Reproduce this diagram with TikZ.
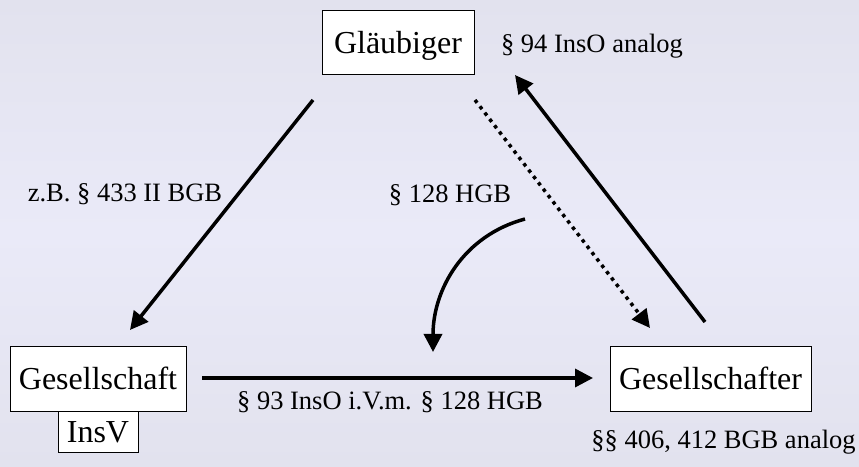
\documentclass[tikz,border=0pt]{standalone}
\usepackage{fontspec}
\setmainfont{Liberation Serif}
\usetikzlibrary{arrows.meta}
\definecolor{bgtop}{HTML}{E2E2EE}
\definecolor{bgmid}{HTML}{EAEAF8}
\begin{document}
\begin{tikzpicture}[x=1pt,y=1pt,
  party/.style={draw=black, line width=1pt, fill=white, font=\fontsize{32}{36}\selectfont,
    text height=25.6pt, text depth=4.5pt, inner sep=0pt, minimum height=64pt},
  lbl/.style={font=\fontsize{26.5}{30}\selectfont, anchor=base, inner sep=0pt},
  conn/.style={line width=3.5pt, -{Triangle[length=18pt,width=18pt]}},
  dotline/.style={conn, dash pattern=on 3.5pt off 4.5pt}
]
\shade[top color=bgtop, bottom color=bgtop, middle color=bgmid] (0,0) rectangle (859,466);
\useasboundingbox (0,0) rectangle (859,466);

\node[party, minimum width=152pt] (glaeub) at (398,423) {Gläubiger};
\node[party, minimum width=80pt, minimum height=41pt] (insv) at (98,34.5) {InsV};
\node[party, minimum width=176pt] (ges) at (98,87) {Gesellschaft};
\node[party, minimum width=201pt] (gester) at (710.5,87) {Gesellschafter};

\coordinate (a1s) at (313,366); \coordinate (a1e) at (130,136);
\coordinate (d1s) at (475,366); \coordinate (d1e) at (650,138);
\coordinate (u1s) at (705,144); \coordinate (u1e) at (515,391);
\coordinate (h1s) at (202,88);  \coordinate (h1e) at (593,88);
\coordinate (c1s) at (525,247); \coordinate (c1e) at (433,114);

\draw[conn] (a1s) -- (a1e);
\draw[dotline] (d1s) -- (d1e);
\draw[conn] (u1s) -- (u1e);
\draw[conn] (h1s) -- (h1e);
\draw[conn] (c1s) to[out=195, in=90] (c1e);

\node[lbl] (l94) at (592,413) {§ 94 InsO analog};
\node[lbl] (l433) at (125,264) {z.B. § 433 II BGB};
\node[lbl] (l128) at (450,263) {§ 128 HGB};
\node[lbl] (l93) at (390,57) {§ 93 InsO i.V.m. § 128 HGB};
\node[lbl] (l406) at (723.5,18) {§§ 406, 412 BGB analog};
\end{tikzpicture}
\end{document}
